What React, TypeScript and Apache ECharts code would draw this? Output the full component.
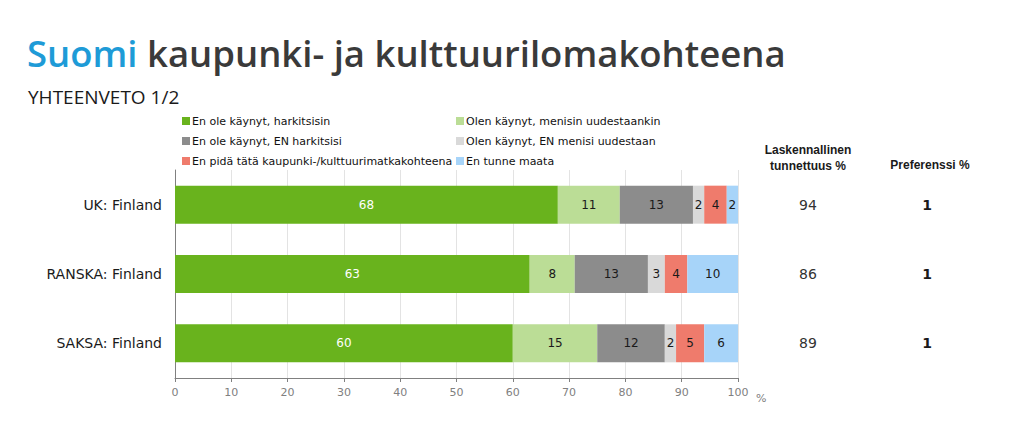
import React, { useEffect, useRef } from "react";
import * as echarts from "echarts";

const categories = ["UK: Finland", "RANSKA: Finland", "SAKSA: Finland"];
const seriesNames = [
  "En ole käynyt, harkitsisin",
  "Olen käynyt, menisin uudestaankin",
  "En ole käynyt, EN harkitsisi",
  "Olen käynyt, EN menisi uudestaan",
  "En pidä tätä kaupunki-/kulttuurimatkakohteena",
  "En tunne maata",
];
const seriesColors = ["#69B31D", "#BBDD96", "#8C8C8C", "#D9D9D9", "#EF7B6C", "#A7D4F9"];
const eiHarkitsisinValues = [68, 63, 60];
const menisinValues = [11, 8, 15];
const enHarkitsisiValues = [13, 13, 12];
const enMenisiValues = [2, 3, 2];
const enPidaValues = [4, 4, 5];
const enTunneValues = [2, 10, 6];
const tunnettuus = [94, 86, 89];
const preferenssi = [1, 1, 1];
const xTicks = [0, 10, 20, 30, 40, 50, 60, 70, 80, 90, 100];

const FONT = "DejaVu Sans";

export default function App() {
  const ref = useRef<HTMLDivElement>(null);
  useEffect(() => {
    document.body.style.margin = "0";
    if (!ref.current) return;
    const chart = echarts.init(ref.current, undefined, { renderer: "svg" });
    const allValues = [
      eiHarkitsisinValues,
      menisinValues,
      enHarkitsisiValues,
      enMenisiValues,
      enPidaValues,
      enTunneValues,
    ];
    const series = allValues.map((vals, i) => ({
      type: "bar",
      name: seriesNames[i],
      stack: "total",
      barWidth: 38,
      data: vals,
      itemStyle: { color: seriesColors[i] },
      label: {
        show: true,
        position: "inside",
        color: i === 0 ? "#ffffff" : "#1a1a1a",
        fontFamily: FONT,
        fontSize: 12,
      },
    }));
    const legendText = {
      fontFamily: FONT,
      fontSize: 11,
      lineHeight: 12,
      color: "#111111",
      padding: [0, 0, 0, -3],
    };
    chart.setOption({
      animation: false,
      textStyle: { fontFamily: FONT },
      grid: { left: 175, top: 170, width: 563, height: 208, containLabel: false },
      legend: [
        {
          left: 182,
          top: 115,
          padding: 0,
          orient: "vertical",
          itemWidth: 8,
          itemHeight: 8,
          itemGap: 8,
          icon: "rect",
          data: [seriesNames[0], seriesNames[2], seriesNames[4]],
          textStyle: legendText,
        },
        {
          left: 456,
          top: 115,
          padding: 0,
          orient: "vertical",
          itemWidth: 8,
          itemHeight: 8,
          itemGap: 8,
          icon: "rect",
          data: [seriesNames[1], seriesNames[3], seriesNames[5]],
          textStyle: legendText,
        },
      ],
      xAxis: {
        type: "value",
        min: xTicks[0],
        max: xTicks[xTicks.length - 1],
        interval: 10,
        axisLine: { show: true, lineStyle: { color: "#808080" } },
        axisTick: { show: true, length: 4, lineStyle: { color: "#808080" } },
        axisLabel: { color: "#808080", fontSize: 11, fontFamily: FONT, margin: 9 },
        splitLine: { show: true, lineStyle: { color: "#E3E3E3" } },
      },
      yAxis: [
        {
          type: "category",
          data: categories,
          inverse: true,
          axisLine: { show: true, lineStyle: { color: "#808080" } },
          axisTick: { show: false },
          axisLabel: { color: "#1a1a1a", fontSize: 14, fontFamily: FONT, margin: 13 },
        },
        {
          type: "category",
          data: categories,
          inverse: true,
          position: "right",
          axisLine: { show: false },
          axisTick: { show: false },
          axisLabel: {
            align: "center",
            margin: 70,
            color: "#333333",
            fontSize: 14,
            fontFamily: FONT,
            formatter: (_v: string, idx: number) => String(tunnettuus[idx]),
          },
        },
        {
          type: "category",
          data: categories,
          inverse: true,
          position: "right",
          axisLine: { show: false },
          axisTick: { show: false },
          axisLabel: {
            align: "center",
            margin: 189,
            color: "#1a1a1a",
            fontSize: 14,
            fontWeight: "bold",
            fontFamily: FONT,
            formatter: (_v: string, idx: number) => String(preferenssi[idx]),
          },
        },
      ],
      series,
      graphic: [
        {
          type: "text",
          left: 27,
          top: 34,
          style: {
            text: "{a|Suomi }{b|kaupunki- ja kulttuurilomakohteena}",
            rich: {
              a: { fontFamily: "Open Sans", fontSize: 36.5, fontWeight: 600, fill: "#1E9BD7" },
              b: { fontFamily: "Open Sans", fontSize: 36.5, fontWeight: 600, fill: "#3A3A3A" },
            },
          },
        },
        {
          type: "text",
          left: 28,
          top: 87,
          style: { text: "YHTEENVETO 1/2", fontFamily: "Open Sans", fontSize: 19, fill: "#1a1a1a" },
        },
        {
          type: "text",
          x: 808,
          y: 142,
          style: {
            text: "Laskennallinen\ntunnettuus %",
            align: "center",
            fontFamily: "Liberation Sans Narrow, Liberation Sans",
            fontSize: 12,
            fontWeight: "bold",
            lineHeight: 16,
            fill: "#1a1a1a",
          },
        },
        {
          type: "text",
          x: 930,
          y: 159,
          style: {
            text: "Preferenssi %",
            align: "center",
            fontFamily: "Liberation Sans Narrow, Liberation Sans",
            fontSize: 12,
            fontWeight: "bold",
            fill: "#1a1a1a",
          },
        },
        {
          type: "text",
          x: 756,
          y: 393,
          style: { text: "%", fontFamily: FONT, fontSize: 11, fill: "#808080" },
        },
      ],
    });
    return () => chart.dispose();
  }, []);
  return <div ref={ref} style={{ width: 1021, height: 427 }} />;
}
